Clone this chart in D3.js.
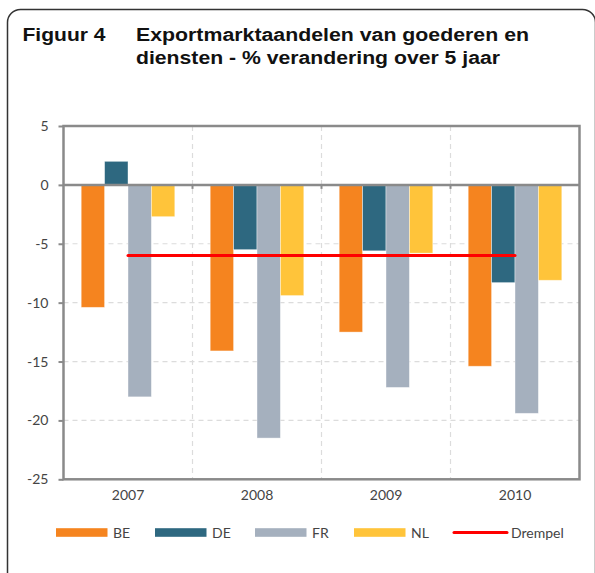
<!DOCTYPE html>
<html><head><meta charset="utf-8">
<script src="https://cdn.jsdelivr.net/npm/d3@7"></script>
<style>body{margin:0;background:#fff}svg{display:block}</style>
</head><body>
<svg id="c" width="595" height="573"></svg>
<script>
const years = ["2007","2008","2009","2010"];
const seriesNames = ["BE","DE","FR","NL"];
const BE = [-10.4,-14.1,-12.5,-15.4];
const DE = [2.0,-5.5,-5.6,-8.3];
const FR = [-18.0,-21.5,-17.2,-19.4];
const NL = [-2.7,-9.4,-5.8,-8.1];
const drempel = [-6,-6,-6,-6];
const yTicks = [5,0,-5,-10,-15,-20,-25];
const colors = {BE:"#F5841F",DE:"#2E6880",FR:"#A5B0BE",NL:"#FFC43A"};
const values = {BE,DE,FR,NL};

const svg = d3.select("#c");
const font = "Lato, 'Open Sans', sans-serif";

// outer rounded frame
svg.append("rect").attr("x",7.5).attr("y",9.5).attr("width",588).attr("height",600)
  .attr("rx",13).attr("fill","none").attr("stroke","#333").attr("stroke-width",1.5);

// title
const tfont = "'Liberation Sans', Arial, sans-serif";
function title(x,y,txt,len){
  svg.append("text").attr("x",x).attr("y",y).attr("font-family",tfont).attr("font-weight","bold")
    .attr("font-size",17.5).attr("fill","#111").attr("textLength",len)
    .attr("lengthAdjust","spacingAndGlyphs").text(txt);
}
title(22.5,40.7,"Figuur 4",83);
title(136,40.7,"Exportmarktaandelen van goederen en",393);
title(136,64,"diensten - % verandering over 5 jaar",364);

const L=63.5, R=579.5, T=126, B=479.3;
const x0 = d3.scaleBand().domain(years).range([L,R]).paddingInner(0).paddingOuter(0);
const x1 = d3.scaleBand().domain(seriesNames).range([0,x0.bandwidth()]).paddingOuter(0.756).paddingInner(0);
const y = d3.scaleLinear().domain([-25,5]).range([B,T]);

// gridlines
const g = svg.append("g");
g.selectAll("line.hg").data(yTicks.filter(d=>d!==5&&d!==0&&d!==-25)).join("line")
  .attr("x1",L).attr("x2",R).attr("y1",d=>y(d)).attr("y2",d=>y(d))
  .attr("stroke","#dcdcdc").attr("stroke-width",1.2).attr("stroke-dasharray","5,4");
g.selectAll("line.vg").data(years.slice(1)).join("line")
  .attr("x1",d=>x0(d)).attr("x2",d=>x0(d)).attr("y1",T).attr("y2",B)
  .attr("stroke","#dcdcdc").attr("stroke-width",1.2).attr("stroke-dasharray","5,4");

// bars
const bars = svg.append("g");
years.forEach((yr,i)=>{
  seriesNames.forEach(s=>{
    const v = values[s][i];
    bars.append("rect")
      .attr("x",x0(yr)+x1(s)).attr("width",x1.bandwidth())
      .attr("y",y(Math.max(0,v))).attr("height",Math.abs(y(v)-y(0)))
      .attr("fill",colors[s]).attr("stroke","rgba(255,255,255,0.5)").attr("stroke-width",0.8);
  });
});

// frame / axes
const axc="#8a8a8a";
svg.append("rect").attr("x",L).attr("y",T).attr("width",R-L).attr("height",B-T)
  .attr("fill","none").attr("stroke",axc).attr("stroke-width",2.5);
svg.append("line").attr("x1",L).attr("x2",R).attr("y1",y(0)).attr("y2",y(0))
  .attr("stroke",axc).attr("stroke-width",2.5);
svg.selectAll("line.zt").data(years.slice(1)).join("line")
  .attr("x1",d=>x0(d)).attr("x2",d=>x0(d)).attr("y1",y(0)).attr("y2",y(0)+4)
  .attr("stroke",axc).attr("stroke-width",2);

// y axis
const yAxis = d3.axisLeft(y).tickValues(yTicks).tickSize(5).tickPadding(10).tickFormat(d=>String(d));
const ya = svg.append("g").attr("transform",`translate(${L},0)`).call(yAxis);
ya.select(".domain").remove();
ya.selectAll(".tick line").attr("stroke",axc).attr("stroke-width",2);
ya.selectAll(".tick text").attr("font-family",font).attr("font-size",14).attr("fill","#444");

// x labels
const xAxis = d3.axisBottom(x0).tickSize(0).tickPadding(11);
const xa = svg.append("g").attr("transform",`translate(0,${B})`).call(xAxis);
xa.select(".domain").remove();
xa.selectAll(".tick text").attr("font-family",font).attr("font-size",14).attr("fill","#444");

// drempel line
const line = d3.line().x((d,i)=>x0(years[i])+x0.bandwidth()/2).y(d=>y(d));
svg.append("path").datum(drempel).attr("d",line).attr("fill","none")
  .attr("stroke","#ff0000").attr("stroke-width",3).attr("stroke-linecap","round");

// legend
const legItems = [
  {name:"BE",x:56,type:"bar"},
  {name:"DE",x:155,type:"bar"},
  {name:"FR",x:255,type:"bar"},
  {name:"NL",x:354,type:"bar"},
  {name:"Drempel",x:454,type:"line"}
];
const ly = 532.5;
legItems.forEach(it=>{
  if(it.type==="bar"){
    svg.append("rect").attr("x",it.x).attr("y",ly-4.3).attr("width",51.5).attr("height",8.6).attr("fill",colors[it.name]);
  } else {
    svg.append("line").attr("x1",it.x).attr("x2",it.x+53).attr("y1",ly).attr("y2",ly)
      .attr("stroke","#ff0000").attr("stroke-width",3).attr("stroke-linecap","round");
  }
  svg.append("text").attr("x",it.x+(it.type==="bar"?57:57)).attr("y",ly+5).attr("font-family",font)
    .attr("font-size",14).attr("fill","#444").text(it.name);
});
</script>
</body></html>
